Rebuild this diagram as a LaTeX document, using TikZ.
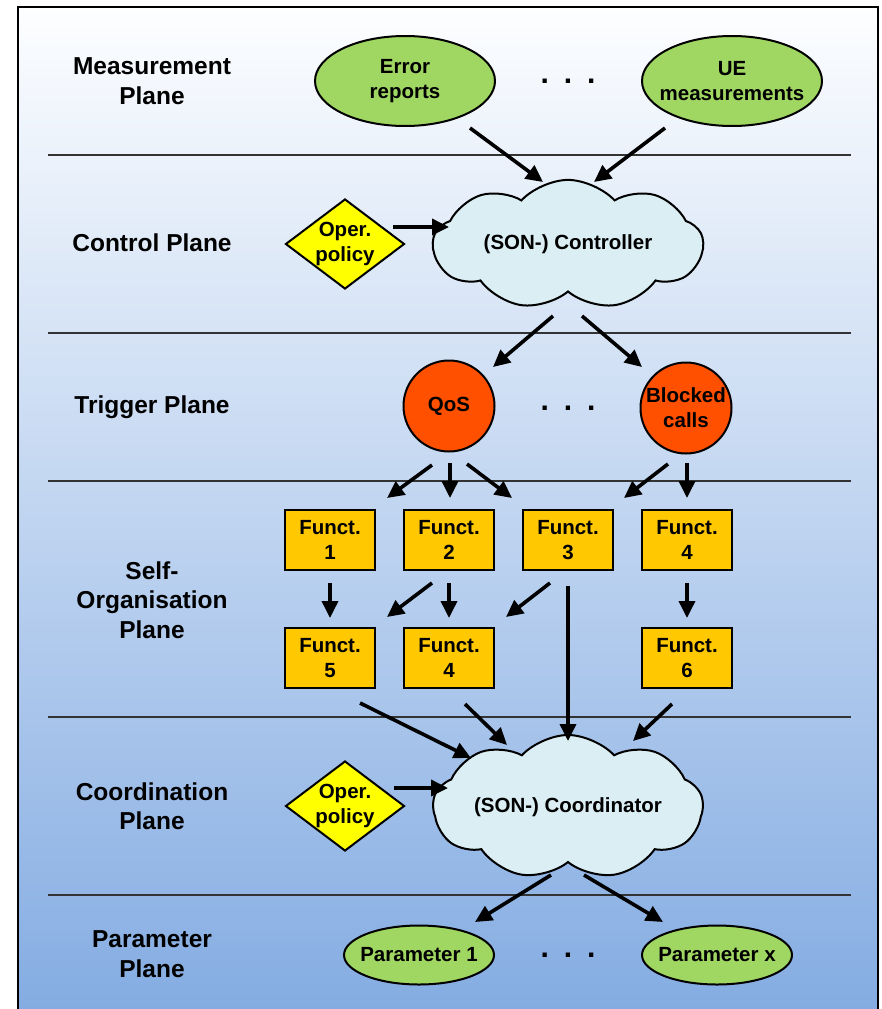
\documentclass[tikz,border=0pt]{standalone}
\usepackage{fontspec}
\setmainfont{Liberation Sans}
\usetikzlibrary{shapes.geometric,shapes.symbols,arrows.meta}
\definecolor{bgtop}{RGB}{253,254,255}
\definecolor{bgbot}{RGB}{132,172,226}
\definecolor{measgreen}{RGB}{160,214,98}
\definecolor{trigred}{RGB}{255,80,0}
\definecolor{functgold}{RGB}{255,200,0}
\definecolor{cloudfill}{RGB}{218,238,243}
\definecolor{diamyellow}{RGB}{255,255,0}
\tikzset{
  planelabel/.style={font=\bfseries\fontsize{24.5}{29.5}\selectfont, align=center},
  nodetext/.style={font=\bfseries\fontsize{20.5}{25}\selectfont, align=center},
  measnode/.style={nodetext, ellipse, draw=black, line width=2pt, fill=measgreen, inner sep=-10pt, minimum width=180pt, minimum height=90pt},
  parnode/.style={nodetext, ellipse, draw=black, line width=2pt, fill=measgreen, inner sep=-10pt, minimum width=150pt, minimum height=59pt},
  trignode/.style={nodetext, circle, draw=black, line width=2pt, fill=trigred, inner sep=-6pt, minimum size=91pt},
  functbox/.style={nodetext, rectangle, draw=black, line width=2pt, fill=functgold, inner sep=0pt, minimum width=90pt, minimum height=60pt},
  policy/.style={nodetext, diamond, draw=black, line width=2pt, fill=diamyellow, inner sep=0pt, shape aspect=1.32, minimum width=119pt, minimum height=90pt},
  son/.style={nodetext, cloud, cloud puffs=9, cloud puff arc=95, aspect=2.4, draw=black, line width=2pt, fill=cloudfill, inner sep=0pt, minimum width=270pt, minimum height=108pt},
  dots/.style={font=\bfseries\fontsize{30}{34}\selectfont},
  flow/.style={line width=3.6pt, -{Triangle[length=17pt,width=16pt]}},
  sep/.style={line width=1.3pt, draw=black!80}
}
\begin{document}
\begin{tikzpicture}[x=1pt,y=-1pt]
\useasboundingbox (0,0) rectangle (881,1009);
\fill[white] (0,0) rectangle (881,1009);
\shade[top color=bgtop, bottom color=bgbot] (18,7) rectangle (878,1012);
\draw[line width=2pt] (18,1020) -- (18,7) -- (878,7) -- (878,1020);
% separators
\foreach \yy/\nm in {155/s1,333/s2,481/s3,717/s4,895/s5}{
  \coordinate (\nm l) at (48,\yy);
  \coordinate (\nm r) at (851,\yy);
  \draw[sep] (\nm l) -- (\nm r);
}
% plane labels
\node[planelabel] (lmeas) at (152,81) {Measurement\\Plane};
\node[planelabel] (lctrl) at (152,243) {Control Plane};
\node[planelabel] (ltrig) at (152,407) {Trigger Plane};
\node[planelabel] (lself) at (152,600) {Self-\\Organisation\\Plane};
\node[planelabel] (lcoord) at (152,806) {Coordination\\Plane};
\node[planelabel] (lpar) at (152,954) {Parameter\\Plane};
% measurement plane
\node[measnode] (err) at (405,81) {Error\\reports};
\node[measnode] (ue) at (732,81) {UE\\measurements};
\node[dots] (d1) at (568,81) {.\hspace{15pt}.\hspace{15pt}.};
% control plane
\node[son] (ctrl) at (568,244.5) {(SON-) Controller};
\node[policy] (pol1) at (345,244) {Oper.\\policy};
% trigger plane
\node[trignode] (qos) at (449,406) {QoS};
\node[trignode] (blk) at (686,408) {Blocked\\calls};
\node[dots] (d2) at (568,408) {.\hspace{15pt}.\hspace{15pt}.};
% self-organisation plane
\node[functbox] (f1) at (330,540) {Funct.\\1};
\node[functbox] (f2) at (449,540) {Funct.\\2};
\node[functbox] (f3) at (568,540) {Funct.\\3};
\node[functbox] (f4) at (687,540) {Funct.\\4};
\node[functbox] (f5) at (330,658) {Funct.\\5};
\node[functbox] (f4b) at (449,658) {Funct.\\4};
\node[functbox] (f6) at (687,658) {Funct.\\6};
% coordination plane
\node[son] (coord) at (568,807) {(SON-) Coordinator};
\node[policy] (pol2) at (345,806) {Oper.\\policy};
% parameter plane
\node[parnode] (p1) at (419,955) {Parameter 1};
\node[parnode] (px) at (717,955) {Parameter x};
\node[dots] (d3) at (568,955) {.\hspace{15pt}.\hspace{15pt}.};
% connector end points
\coordinate (a1s) at (470,128);  \coordinate (a1e) at (543,182);
\coordinate (a2s) at (665,128);  \coordinate (a2e) at (594,182);
\coordinate (a3s) at (393,227);  \coordinate (a3e) at (449,227);
\coordinate (a4s) at (553,316);  \coordinate (a4e) at (493,367);
\coordinate (a5s) at (582,316);  \coordinate (a5e) at (642,367);
\coordinate (a6s) at (432,465);  \coordinate (a6e) at (387,498);
\coordinate (a7s) at (450,463);  \coordinate (a7e) at (450,498);
\coordinate (a8s) at (467,464);  \coordinate (a8e) at (512,498);
\coordinate (a9s) at (668,464);  \coordinate (a9e) at (624,498);
\coordinate (a10s) at (687,463); \coordinate (a10e) at (687,498);
\coordinate (a11s) at (330,583); \coordinate (a11e) at (330,618);
\coordinate (a12s) at (432,583); \coordinate (a12e) at (387,617);
\coordinate (a13s) at (449,583); \coordinate (a13e) at (449,618);
\coordinate (a14s) at (550,583); \coordinate (a14e) at (506,617);
\coordinate (a15s) at (568,586); \coordinate (a15e) at (568,741);
\coordinate (a16s) at (687,583); \coordinate (a16e) at (687,618);
\coordinate (a17s) at (360,703); \coordinate (a17e) at (471,758);
\coordinate (a18s) at (465,704); \coordinate (a18e) at (507,745);
\coordinate (a19s) at (672,704); \coordinate (a19e) at (633,741);
\coordinate (a20s) at (394,788); \coordinate (a20e) at (448,788);
\coordinate (a21s) at (551,875); \coordinate (a21e) at (475,922);
\coordinate (a22s) at (584,875); \coordinate (a22e) at (663,922);
\foreach \i in {1,...,22}{
  \draw[flow] (a\i s) -- (a\i e);
}
\end{tikzpicture}
\end{document}
